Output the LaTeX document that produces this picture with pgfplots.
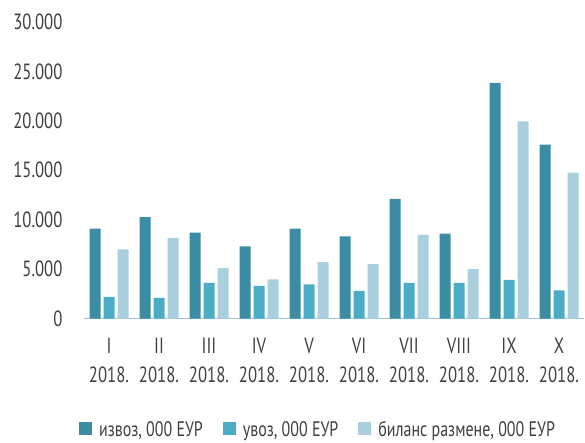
\documentclass[border=0pt]{standalone}
\usepackage{fontspec}
\setmainfont{PT Sans}[FakeStretch=0.76]
\usepackage{pgfplots}
\pgfplotsset{compat=1.18}
\definecolor{cexp}{HTML}{3C8CA3}
\definecolor{cimp}{HTML}{4BACC6}
\definecolor{cbal}{HTML}{AACFDD}
\definecolor{caxis}{HTML}{9DC3E6}
\definecolor{ctext}{HTML}{404040}

\pgfplotstableread{
x exp imp bal
0 9100 2200 7000
1 10250 2100 8150
2 8700 3600 5100
3 7300 3300 3950
4 9100 3450 5700
5 8300 2800 5500
6 12100 3600 8450
7 8600 3600 5000
8 23850 3900 19950
9 17600 2850 14750
}\trade

\begin{document}
\begin{tikzpicture}
\begin{axis}[
  scale only axis,
  width=500pt, height=296.5pt,
  ybar=3pt, bar width=11pt,
  xmin=-0.5, xmax=9.5,
  ymin=0, ymax=30000,
  ytick={0,5000,...,30000},
  scaled y ticks=false,
  /pgf/number format/.cd, 1000 sep={.}, assume math mode=true,
  /pgfplots/.cd,
  xtick={0,...,9},
  xticklabels={{I\\2018.},{II\\2018.},{III\\2018.},{IV\\2018.},{V\\2018.},{VI\\2018.},{VII\\2018.},{VIII\\2018.},{IX\\2018.},{X\\2018.}},
  axis x line=bottom, axis y line=left,
  x axis line style={draw=caxis, line width=1.3pt, -},
  y axis line style={draw=none},
  major tick length=0pt,
  tick label style={font=\fontsize{22}{29}\selectfont, text=ctext},
  xticklabel style={align=center, yshift=-16pt},
  yticklabel style={xshift=-18pt},
  legend style={at={(0.468,-0.376)}, anchor=center, draw=none, fill=none,
    font=\fontsize{21}{24}\selectfont, text=ctext,
    legend columns=3, /tikz/every even column/.append style={column sep=18pt}},
  legend image code/.code={\fill[#1] (0pt,-5pt) rectangle (13pt,8pt);
    \path (18pt,0pt);},
  clip=false,
]
\addplot[fill=cexp, draw=none] table[x=x, y=exp] {\trade};
\addplot[fill=cimp, draw=none] table[x=x, y=imp] {\trade};
\addplot[fill=cbal, draw=none] table[x=x, y=bal] {\trade};
\legend{{извоз, 000 ЕУР}, {увоз, 000 ЕУР}, {биланс размене, 000 ЕУР}}
\end{axis}
\path (current axis.south west) ++(-84pt,-123.5pt) rectangle ++(585pt,442pt);
\end{tikzpicture}
\end{document}
